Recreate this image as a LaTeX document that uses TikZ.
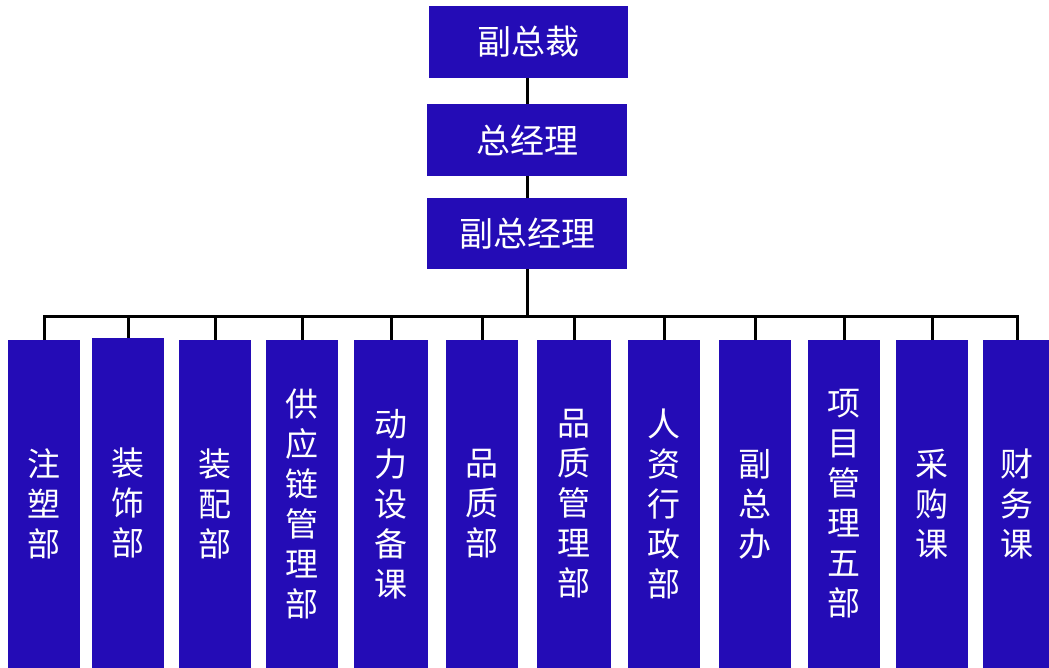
\documentclass[tikz,border=0pt]{standalone}
\usepackage{fontspec}
\newfontfamily\cjk{Noto Sans CJK SC}
\definecolor{boxblue}{RGB}{36,12,182}
\begin{document}
\begin{tikzpicture}[x=1pt,y=-1pt,
  box/.style={fill=boxblue,text=white,inner sep=0pt,align=center,
    font=\cjk\fontsize{33}{40}\selectfont},
  topbox/.style={box,minimum width=199pt,minimum height=72pt,font=\cjk\fontsize{34}{40}\selectfont},
  dept/.style={box,minimum width=72pt,minimum height=328pt},
  link/.style={line width=3pt,black}]
\useasboundingbox (0,0) rectangle (1049,668);
\node[topbox] (vp) at (528,42) {副总裁};
\node[topbox,minimum width=200pt] (gm) at (527,140) {总经理};
\node[topbox,minimum width=200pt,minimum height=71pt] (vgm) at (527,233.5) {副总经理};
\coordinate (bus) at (527,316);
\node[dept] (d1) at (44,504) {注\\塑\\部};
\node[dept,minimum height=330pt] (d2) at (128,503) {装\\饰\\部};
\node[dept] (d3) at (215,504) {装\\配\\部};
\node[dept] (d4) at (302,504) {供\\应\\链\\管\\理\\部};
\node[dept,minimum width=74pt] (d5) at (391,504) {动\\力\\设\\备\\课};
\node[dept] (d6) at (482,504) {品\\质\\部};
\node[dept,minimum width=74pt] (d7) at (574,504) {品\\质\\管\\理\\部};
\node[dept] (d8) at (664,504) {人\\资\\行\\政\\部};
\node[dept] (d9) at (755,504) {副\\总\\办};
\node[dept] (d10) at (844,504) {项\\目\\管\\理\\五\\部};
\node[dept] (d11) at (932,504) {采\\购\\课};
\node[dept,minimum width=68pt] (d12) at (1017,504) {财\\务\\课};
\draw[link] (gm.north |- vp.south) -- (gm.north);
\draw[link] (gm.south) -- (vgm.north);
\draw[link] (vgm.south) -- (bus);
\draw[link,line cap=rect] (d1.north |- bus) -- (d12.north |- bus);
\foreach \i in {1,...,12}{\draw[link] (d\i.north |- bus) -- (d\i.north);}
\end{tikzpicture}
\end{document}
